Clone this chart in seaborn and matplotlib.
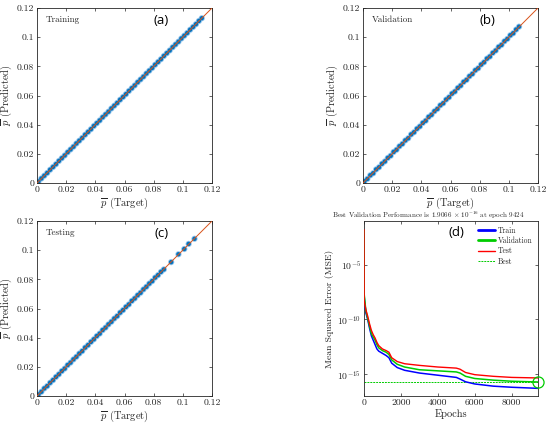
import numpy as np
import pandas as pd
import matplotlib
matplotlib.use("Agg")
import matplotlib.pyplot as plt
import seaborn as sns

# ---------------- data ----------------
train_target = [0.001, 0.003, 0.005, 0.007, 0.009, 0.011, 0.013, 0.015, 0.017, 0.019,
                0.021, 0.023, 0.025, 0.027, 0.029, 0.031, 0.033, 0.035, 0.037, 0.039,
                0.041, 0.043, 0.045, 0.047, 0.049, 0.051, 0.053, 0.055, 0.057, 0.059,
                0.061, 0.063, 0.065, 0.067, 0.069, 0.071, 0.073, 0.075, 0.077, 0.079,
                0.081, 0.083, 0.085, 0.087, 0.089, 0.091, 0.093, 0.095, 0.097, 0.099,
                0.101, 0.103, 0.105, 0.107, 0.109, 0.111, 0.113]
train_pred = [0.0010, 0.0031, 0.0050, 0.0069, 0.0091, 0.0110, 0.0129, 0.0151, 0.0170, 0.0189,
              0.0211, 0.0230, 0.0249, 0.0271, 0.0290, 0.0309, 0.0331, 0.0350, 0.0369, 0.0391,
              0.0410, 0.0429, 0.0451, 0.0470, 0.0489, 0.0511, 0.0530, 0.0549, 0.0571, 0.0590,
              0.0609, 0.0631, 0.0650, 0.0669, 0.0691, 0.0710, 0.0729, 0.0751, 0.0770, 0.0789,
              0.0811, 0.0830, 0.0849, 0.0871, 0.0890, 0.0909, 0.0931, 0.0950, 0.0969, 0.0991,
              0.1010, 0.1029, 0.1051, 0.1070, 0.1089, 0.1111, 0.1130]

val_target = [0.001, 0.003, 0.005, 0.007, 0.009, 0.011, 0.013, 0.015, 0.017, 0.019,
              0.021, 0.023, 0.025, 0.027, 0.029, 0.031, 0.033, 0.035, 0.037, 0.039,
              0.041, 0.043, 0.045, 0.047, 0.049, 0.051, 0.053, 0.055, 0.057, 0.059,
              0.061, 0.063, 0.065, 0.067, 0.069, 0.071, 0.073, 0.075, 0.077, 0.079,
              0.081, 0.083, 0.085, 0.087, 0.089, 0.091, 0.093, 0.095, 0.097, 0.099,
              0.101, 0.103, 0.105, 0.107]
val_pred = [0.0012, 0.0028, 0.0053, 0.0067, 0.0093, 0.0108, 0.0132, 0.0148, 0.0172, 0.0187,
            0.0213, 0.0228, 0.0252, 0.0268, 0.0292, 0.0307, 0.0333, 0.0348, 0.0372, 0.0388,
            0.0412, 0.0427, 0.0453, 0.0468, 0.0492, 0.0508, 0.0533, 0.0547, 0.0572, 0.0588,
            0.0613, 0.0627, 0.0652, 0.0668, 0.0693, 0.0707, 0.0732, 0.0748, 0.0773, 0.0787,
            0.0812, 0.0828, 0.0853, 0.0867, 0.0892, 0.0908, 0.0933, 0.0947, 0.0972, 0.0988,
            0.1013, 0.1027, 0.1052, 0.1072]

test_target = [0.001, 0.003, 0.005, 0.007, 0.009, 0.011, 0.013, 0.015, 0.017, 0.019,
               0.021, 0.023, 0.025, 0.027, 0.029, 0.031, 0.033, 0.035, 0.037, 0.039,
               0.041, 0.043, 0.045, 0.047, 0.049, 0.051, 0.053, 0.055, 0.057, 0.059,
               0.061, 0.063, 0.065, 0.067, 0.069, 0.071, 0.073, 0.075, 0.077, 0.079,
               0.081, 0.083, 0.085, 0.087, 0.092, 0.097, 0.101, 0.104, 0.108]
test_pred = [0.0011, 0.0029, 0.0052, 0.0068, 0.0091, 0.0109, 0.0131, 0.0149, 0.0171, 0.0188,
             0.0212, 0.0229, 0.0251, 0.0269, 0.0291, 0.0308, 0.0332, 0.0349, 0.0371, 0.0389,
             0.0411, 0.0428, 0.0452, 0.0469, 0.0491, 0.0509, 0.0531, 0.0548, 0.0572, 0.0589,
             0.0611, 0.0628, 0.0652, 0.0669, 0.0691, 0.0708, 0.0731, 0.0749, 0.0771, 0.0788,
             0.0812, 0.0829, 0.0851, 0.0868, 0.0918, 0.0972, 0.1008, 0.1043, 0.1078]

diag_line = [0.0, 0.12]
xy_ticks = [0, 0.02, 0.04, 0.06, 0.08, 0.1, 0.12]
xy_tick_labels = ['0', '0.02', '0.04', '0.06', '0.08', '0.1', '0.12']

epochs = [0, 10, 100, 200, 300, 400, 500, 600, 700, 800, 1000, 1200, 1350, 1500, 1800,
          2200, 3000, 4000, 5000, 5200, 5500, 6000, 7000, 8000, 9424]
train_log10_mse = [-2.0, -7.9, -9.4, -10.0, -10.8, -11.5, -11.9, -12.3, -12.7, -12.9, -13.1,
                   -13.3, -13.5, -14.0, -14.4, -14.65, -14.9, -15.1, -15.3, -15.45, -15.7,
                   -15.9, -16.1, -16.2, -16.3]
val_log10_mse = [-1.9, -7.7, -9.2, -9.9, -10.6, -11.3, -11.6, -11.9, -12.3, -12.6, -12.85,
                 -13.0, -13.2, -13.7, -14.1, -14.35, -14.6, -14.7, -14.8, -14.9, -15.2,
                 -15.4, -15.55, -15.65, -15.72]
test_log10_mse = [-1.8, -8.3, -9.1, -9.7, -10.4, -11.0, -11.4, -11.7, -12.1, -12.4, -12.7,
                  -12.85, -13.0, -13.5, -13.85, -14.05, -14.2, -14.35, -14.45, -14.55,
                  -14.85, -15.05, -15.2, -15.3, -15.35]
best_epoch = 9424
best_perf = 1.9066e-16
log_ticks = [1e-15, 1e-10, 1e-5]
log_tick_labels = [r'$10^{-15}$', r'$10^{-10}$', r'$10^{-5}$']
epoch_ticks = [0, 2000, 4000, 6000, 8000]

# ---------------- style ----------------
sns.set_style("ticks")
plt.rcParams['font.family'] = ['cmr10', 'DejaVu Serif']
plt.rcParams['mathtext.fontset'] = 'cm'
plt.rcParams['axes.unicode_minus'] = False
plt.rcParams['axes.formatter.use_mathtext'] = True

TXT = '#262626'
MBLUE = '#0072BD'
HALO = '#8fc0ea'
ORANGE = '#D95319'

fig = plt.figure(figsize=(5.5, 4.26), dpi=100)
W, H = 550, 426

def add_ax(l, t, r, b):
    return fig.add_axes([l / W, 1 - b / H, (r - l) / W, (b - t) / H])

def style_box(ax):
    for s in ax.spines.values():
        s.set_color(TXT)
        s.set_linewidth(0.6)
    ax.tick_params(direction='in', length=2.5, width=0.5, color=TXT,
                   labelsize=7, labelcolor=TXT, top=True, right=True, pad=2)

def scatter_panel(ax, tx, py, name, tag):
    df = pd.DataFrame({'Target': tx, 'Predicted': py})
    sns.scatterplot(data=df, x='Target', y='Predicted', ax=ax, marker='o', s=20,
                    color=HALO, edgecolor='none', alpha=0.9, zorder=1, legend=False)
    sns.scatterplot(data=df, x='Target', y='Predicted', ax=ax, marker='o', s=10,
                    color=MBLUE, edgecolor='none', zorder=2, legend=False)
    sns.lineplot(x=diag_line, y=diag_line, ax=ax, color=ORANGE, linewidth=0.7, zorder=3)
    ax.set_xlim(0, 0.12)
    ax.set_ylim(0, 0.12)
    ax.set_xticks(xy_ticks)
    ax.set_xticklabels(xy_tick_labels)
    ax.set_yticks(xy_ticks)
    ax.set_yticklabels(xy_tick_labels)
    style_box(ax)
    ax.set_xlabel(r'$\overline{p}$ (Target)', fontsize=7.5, color=TXT, labelpad=1)
    ax.set_ylabel(r'$\overline{p}$ (Predicted)', fontsize=7.5, color=TXT, labelpad=2)
    ax.text(0.05, 0.93, name, transform=ax.transAxes, fontsize=6.5, color=TXT,
            ha='left', va='center')
    ax.text(0.71, 0.93, tag, transform=ax.transAxes, fontsize=9.5, color='black',
            ha='center', va='center', family='Open Sans')

ax_a = add_ax(37, 8, 212, 183)
scatter_panel(ax_a, train_target, train_pred, 'Training', '(a)')
ax_b = add_ax(363, 8, 538, 183)
scatter_panel(ax_b, val_target, val_pred, 'Validation', '(b)')
ax_c = add_ax(37, 221, 212, 396)
scatter_panel(ax_c, test_target, test_pred, 'Testing', '(c)')

# ---------------- panel d ----------------
ax_d = add_ax(364, 221, 538, 396)
perf = pd.DataFrame({
    'Epoch': epochs * 3,
    'MSE': list(10.0 ** np.array(train_log10_mse)) + list(10.0 ** np.array(val_log10_mse))
           + list(10.0 ** np.array(test_log10_mse)),
    'Set': ['Train'] * len(epochs) + ['Validation'] * len(epochs) + ['Test'] * len(epochs),
})
colors = {'Train': '#0000FF', 'Validation': '#00CC00', 'Test': '#FF0000'}
for name, lw in [('Train', 1.1), ('Validation', 1.1), ('Test', 1.0)]:
    sub = perf[perf['Set'] == name]
    sns.lineplot(data=sub, x='Epoch', y='MSE', ax=ax_d, color=colors[name],
                 linewidth=lw, label=name, zorder=3)
ax_d.set_yscale('log')
sns.lineplot(x=[0, best_epoch], y=[best_perf, best_perf], ax=ax_d, color='#00CC00',
             linewidth=0.7, linestyle=(0, (2, 1)), label='Best', zorder=2)
ax_d.axvline(best_epoch, color='#00CC00', linewidth=0.7, zorder=2)
ax_d.plot([best_epoch], [best_perf], marker='o', markersize=8, markerfacecolor='none',
          markeredgecolor='#00CC00', markeredgewidth=0.9, clip_on=False, zorder=5)
ax_d.set_xlim(0, best_epoch)
ax_d.set_ylim(1e-17, 1e-1)
ax_d.set_xticks(epoch_ticks)
ax_d.set_xticklabels([str(e) for e in epoch_ticks])
ax_d.set_yticks(log_ticks)
ax_d.set_yticklabels(log_tick_labels)
ax_d.yaxis.set_minor_locator(matplotlib.ticker.NullLocator())
style_box(ax_d)
ax_d.set_xlabel('Epochs', fontsize=7.5, color=TXT, labelpad=1)
ax_d.set_ylabel('Mean Squared Error (MSE)', fontsize=7, color=TXT, labelpad=2)
ax_d.set_title(r'Best Validation Performance is 1.9066 $\times$ $10^{-16}$ at epoch 9424',
               fontsize=5.1, color=TXT, pad=2, x=0.37)
ax_d.text(0.53, 0.933, '(d)', transform=ax_d.transAxes, fontsize=9.5, color='black',
          ha='center', va='center', family='Open Sans')
leg = ax_d.legend(loc='upper right', fontsize=5.5, frameon=False, handlelength=2.2,
                  handletextpad=0.4, labelspacing=0.25, borderaxespad=0.3)
for t in leg.get_texts():
    t.set_color(TXT)
leg.get_lines()[0].set_linewidth(2.0)
leg.get_lines()[1].set_linewidth(2.0)

fig.savefig('out.png', dpi=100)
